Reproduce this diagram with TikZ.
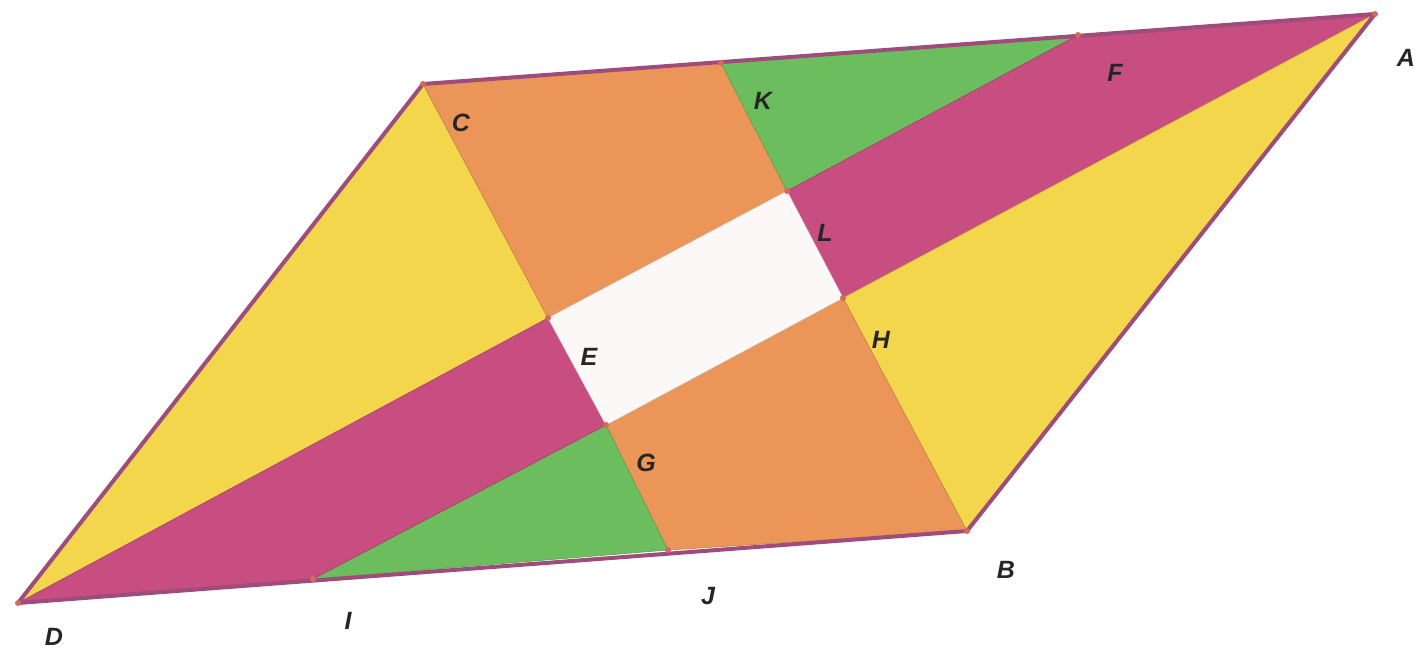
\documentclass[tikz,border=0pt]{standalone}
\usepackage{fontspec}
\setmainfont{Liberation Sans}
\definecolor{ylw}{HTML}{F4D64C}
\definecolor{org}{HTML}{EB9559}
\definecolor{mag}{HTML}{C84D80}
\definecolor{grn}{HTML}{6CBD5E}
\definecolor{edge}{HTML}{9E4C7C}
\definecolor{dotc}{HTML}{D46A5E}
\definecolor{wht}{HTML}{FBF8F7}
\tikzset{
  region/.style={draw=#1!85!black, line width=0.6pt, fill=#1, line join=round},
  frame/.style={draw=edge, line width=4pt, line join=round},
  pt/.style={circle, fill=dotc, inner sep=0pt, minimum size=6pt},
  lbl/.style={font=\fontsize{25}{25}\selectfont\bfseries\itshape, text=black!85, inner sep=0pt}
}
\begin{document}
\begin{tikzpicture}[x=1pt,y=-1pt]
\useasboundingbox (0,0) rectangle (1420,654);
\coordinate (A) at (1375,14);
\coordinate (B) at (967,531);
\coordinate (C) at (423,84);
\coordinate (D) at (18,603);
\coordinate (F) at (1078,35);
\coordinate (K) at (721,63);
\coordinate (L) at (787,191);
\coordinate (H) at (843,298);
\coordinate (E) at (548,318);
\coordinate (G) at (606,425);
\coordinate (J) at (668,550);
\coordinate (I) at (313,579);
% regions
\fill[region=ylw] (C) -- (D) -- (E) -- cycle;
\fill[region=org] (C) -- (K) -- (L) -- (E) -- cycle;
\fill[region=grn] (K) -- (F) -- (L) -- cycle;
\fill[region=mag] (F) -- (A) -- (H) -- (L) -- cycle;
\fill[region=ylw] (A) -- (B) -- (H) -- cycle;
\fill[region=org] (H) -- (B) -- (J) -- (G) -- cycle;
\fill[region=grn] (G) -- (J) -- (I) -- cycle;
\fill[region=mag] (D) -- (E) -- (G) -- (I) -- cycle;
\fill[region=wht] (E) -- (L) -- (H) -- (G) -- cycle;
% frame
\draw[frame] (A) -- (C) -- (D) -- (B) -- cycle;
% dots
\foreach \p in {A,B,C,D,F,K,L,H,E,G,J,I}
  \node[pt] (d\p) at (\p) {};
% labels
\node[lbl] (lA) at (1406,58) {A};
\node[lbl] (lF) at (1115,73) {F};
\node[lbl] (lK) at (763,101) {K};
\node[lbl] (lC) at (461,123) {C};
\node[lbl] (lL) at (825,233) {L};
\node[lbl] (lH) at (881,340) {H};
\node[lbl] (lE) at (589,357) {E};
\node[lbl] (lG) at (646,463) {G};
\node[lbl] (lB) at (1006,570) {B};
\node[lbl] (lJ) at (708,596) {J};
\node[lbl] (lI) at (348,621) {I};
\node[lbl] (lD) at (54,637) {D};
\end{tikzpicture}
\end{document}
